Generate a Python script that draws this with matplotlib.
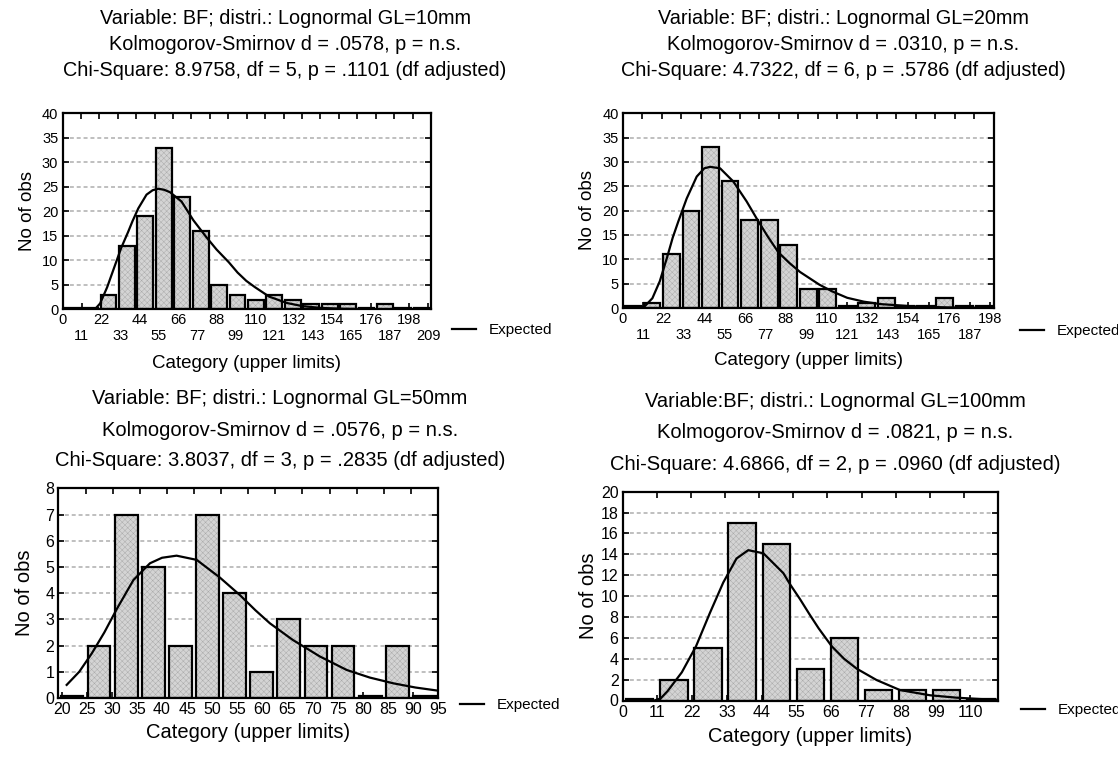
import numpy as np
import matplotlib.pyplot as plt

plt.rcParams['font.family'] = ['Liberation Sans', 'DejaVu Sans']
plt.rcParams['hatch.linewidth'] = 0.3

W, H = 1118, 762

# --- data ---
# GL = 10mm
gl10_counts = [0, 0, 3, 13, 19, 33, 23, 16, 5, 3, 2, 3, 2, 1, 1, 1, 0, 1, 0, 0]
gl10_ticks = list(range(0, 210, 11))
gl10_exp_x = [15, 19, 21.5, 25.5, 29.5, 33.5, 37.5, 40, 43.3, 48, 51.5, 54.7, 58, 61.4,
              68, 74.7, 82, 88, 95, 100, 105, 110, 118, 128, 137, 147, 160, 180, 210.5]
gl10_exp_y = [0, 0.2, 1.2, 4.5, 8.5, 12.5, 15.8, 18, 20.6, 23.4, 24.3, 24.6, 24.4, 23.9,
              22, 18.2, 14.8, 12.2, 9.6, 7.5, 5.8, 4.5, 2.6, 1.3, 0.65, 0.3, 0.1, 0.02, 0]

# GL = 20mm
gl20_counts = [0, 1, 11, 20, 33, 26, 18, 18, 13, 4, 4, 0, 1, 2, 0, 0, 2, 0, 0]
gl20_ticks = list(range(0, 199, 11))
gl20_exp_x = [8, 12, 16, 20, 24, 27, 30, 34.5, 39.9, 44, 47.1, 52.5, 59.6, 66.8, 72.2,
              78, 84, 90, 95.6, 106, 113, 121, 130, 139, 157, 175, 200]
gl20_exp_y = [0, 0.4, 2.0, 5.5, 10.5, 14.5, 17.8, 22.5, 27, 28.7, 29.0, 28.7, 26, 21.9, 18.4,
              14.8, 11.4, 9.2, 7.4, 4.8, 3.4, 2.1, 1.3, 0.8, 0.33, 0.12, 0.03]

# GL = 50mm
gl50_counts = [0, 2, 7, 5, 2, 7, 4, 1, 3, 2, 2, 0, 2, 0]
gl50_ticks = list(range(20, 96, 5))
gl50_exp_x = [21, 23.5, 26, 28.5, 31, 34.3, 37.6, 40, 42.9, 46.9, 51.5, 55.5, 58.6, 61.5,
              66.1, 71.5, 76.8, 81.4, 86.1, 90.5, 95]
gl50_exp_y = [0.5, 1.0, 1.7, 2.5, 3.4, 4.5, 5.14, 5.35, 5.43, 5.27, 4.6, 3.93, 3.35, 2.85,
              2.21, 1.58, 1.07, 0.78, 0.56, 0.4, 0.28]

# GL = 100mm
gl100_counts = [0, 2, 5, 17, 15, 3, 6, 1, 1, 1, 0]
gl100_ticks = list(range(0, 111, 11))
gl100_exp_x = [10, 12, 14.2, 18.7, 23.2, 27.6, 31.8, 36, 39.7, 44.5, 50.8, 53, 56.1, 59.2,
               62, 66.1, 70, 74, 80.3, 87.7, 97.2, 105.6, 113, 118.7]
gl100_exp_y = [0, 0.2, 0.9, 2.7, 5.2, 8.4, 11.3, 13.6, 14.4, 14.1, 12.2, 11.1, 9.7, 8.2,
               6.9, 5.2, 4.0, 3.05, 1.96, 1.0, 0.5, 0.27, 0.14, 0.08]

titles = [
    ["Variable: BF; distri.: Lognormal GL=10mm",
     "Kolmogorov-Smirnov d = .0578, p = n.s.",
     "Chi-Square: 8.9758, df = 5, p = .1101 (df adjusted)"],
    ["Variable: BF; distri.: Lognormal GL=20mm",
     "Kolmogorov-Smirnov d = .0310, p = n.s.",
     "Chi-Square: 4.7322, df = 6, p = .5786 (df adjusted)"],
    ["Variable: BF; distri.: Lognormal GL=50mm",
     "Kolmogorov-Smirnov d = .0576, p = n.s.",
     "Chi-Square: 3.8037, df = 3, p = .2835 (df adjusted)"],
    ["Variable:BF; distri.: Lognormal GL=100mm",
     "Kolmogorov-Smirnov d = .0821, p = n.s.",
     "Chi-Square: 4.6866, df = 2, p = .0960 (df adjusted)"],
]

# --- layout (pixels) and styling per panel ---
panels = [
    dict(counts=gl10_counts, ticks=gl10_ticks, ex=gl10_exp_x, ey=gl10_exp_y,
         box=(62.5, 431, 113.3, 309.3), xlim=(0, 210.5), ylim=40, ystep=5,
         stagger=True, tfs=10.5, bw=0.86, title_x=285, title_y=(18, 44, 70), tfs_title=14.3,
         xlab=(247, 363), ylab=(28, 211), lfs=13.5, leg=(452, 330)),
    dict(counts=gl20_counts, ticks=gl20_ticks, ex=gl20_exp_x, ey=gl20_exp_y,
         box=(622.7, 993.7, 113.3, 308), xlim=(0, 200), ylim=40, ystep=5,
         stagger=True, tfs=10.5, bw=0.86, title_x=843, title_y=(18, 44, 70), tfs_title=14.3,
         xlab=(808, 360), ylab=(588, 210), lfs=13.5, leg=(1020, 331)),
    dict(counts=gl50_counts, ticks=gl50_ticks, ex=gl50_exp_x, ey=gl50_exp_y,
         box=(58.4, 438, 488.3, 698), xlim=(19.35, 95), ylim=8, ystep=1,
         stagger=False, tfs=11.5, bw=0.84, title_x=280, title_y=(399, 430, 461), tfs_title=14.5,
         xlab=(248, 733), ylab=(25, 593), lfs=14.5, leg=(460, 705)),
    dict(counts=gl100_counts, ticks=gl100_ticks, ex=gl100_exp_x, ey=gl100_exp_y,
         box=(622.7, 998, 491.7, 700.5), xlim=(0, 118.7), ylim=20, ystep=2,
         stagger=False, tfs=11.5, bw=0.8, title_x=835, title_y=(402, 433, 464), tfs_title=14.5,
         xlab=(810, 737), ylab=(588, 596), lfs=14.5, leg=(1021, 710)),
]

fig = plt.figure(figsize=(W / 100, H / 100), dpi=100)

for p, ttl in zip(panels, titles):
    l, r, t, b = p['box']
    ax = fig.add_axes([l / W, 1 - b / H, (r - l) / W, (b - t) / H])
    x0, x1 = p['xlim']
    n = len(p['counts'])
    edges = np.linspace(x0, x1, n + 1)
    centers = (edges[:-1] + edges[1:]) / 2
    width = (x1 - x0) / n * p['bw']
    # empty classes are still drawn as a flat box, as in the original software
    shown = np.maximum(p['counts'], p['ylim'] * 0.008)

    # textured fill, then black outlines
    ax.bar(centers, shown, width, color='#d4d4d4', hatch='xxxxxx',
           edgecolor='#a6a6a6', linewidth=0, zorder=2)
    ax.bar(centers, shown, width, fill=False, edgecolor='black',
           linewidth=1.6, zorder=3)
    ax.plot(p['ex'], p['ey'], color='black', lw=1.6, zorder=4, label='Expected')

    ax.set_xlim(x0, x1)
    ax.set_ylim(0, p['ylim'])
    ax.set_yticks(np.arange(0, p['ylim'] + 0.1, p['ystep']))
    ax.set_xticks(edges[1:-1], minor=True)
    if p['stagger']:
        # alternate labels on two rows
        ax.set_xticks(p['ticks'][::2])
        sec = ax.secondary_xaxis('bottom')
        sec.set_xticks(p['ticks'][1::2])
        sec.tick_params(direction='in', length=4, width=1.2, labelsize=p['tfs'], pad=14.5)
        sec.spines['bottom'].set_visible(False)
    else:
        ax.set_xticks(p['ticks'])

    ax.set_axisbelow(True)
    ax.yaxis.grid(True, color='#bababa', linestyle=(0, (2.2, 1.6)), linewidth=1.3)
    for s in ax.spines.values():
        s.set_linewidth(1.6)
    ax.tick_params(axis='x', which='major', direction='in', length=4, width=1.2,
                   bottom=True, top=False, labelsize=p['tfs'], pad=3)
    ax.tick_params(axis='x', which='minor', direction='in', length=4, width=1.2,
                   bottom=False, top=True)
    ax.tick_params(axis='y', direction='in', length=4, width=1.2, left=True,
                   right=True, labelsize=p['tfs'], pad=3)

    lx, ly = p['leg']
    ax.legend(loc='center left', bbox_to_anchor=((lx - l) / (r - l), (b - ly) / (b - t)),
              frameon=False, fontsize=11, handlelength=1.6, handletextpad=0.8,
              borderaxespad=0, borderpad=0)

    for line, yy in zip(ttl, p['title_y']):
        fig.text(p['title_x'] / W, 1 - yy / H, line, ha='center', va='center',
                 fontsize=p['tfs_title'])
    fig.text(p['xlab'][0] / W, 1 - p['xlab'][1] / H, 'Category (upper limits)',
             ha='center', va='center', fontsize=p['lfs'])
    fig.text(p['ylab'][0] / W, 1 - p['ylab'][1] / H, 'No of obs', ha='center',
             va='center', rotation=90, fontsize=p['lfs'])

fig.savefig('out.png', dpi=100)
